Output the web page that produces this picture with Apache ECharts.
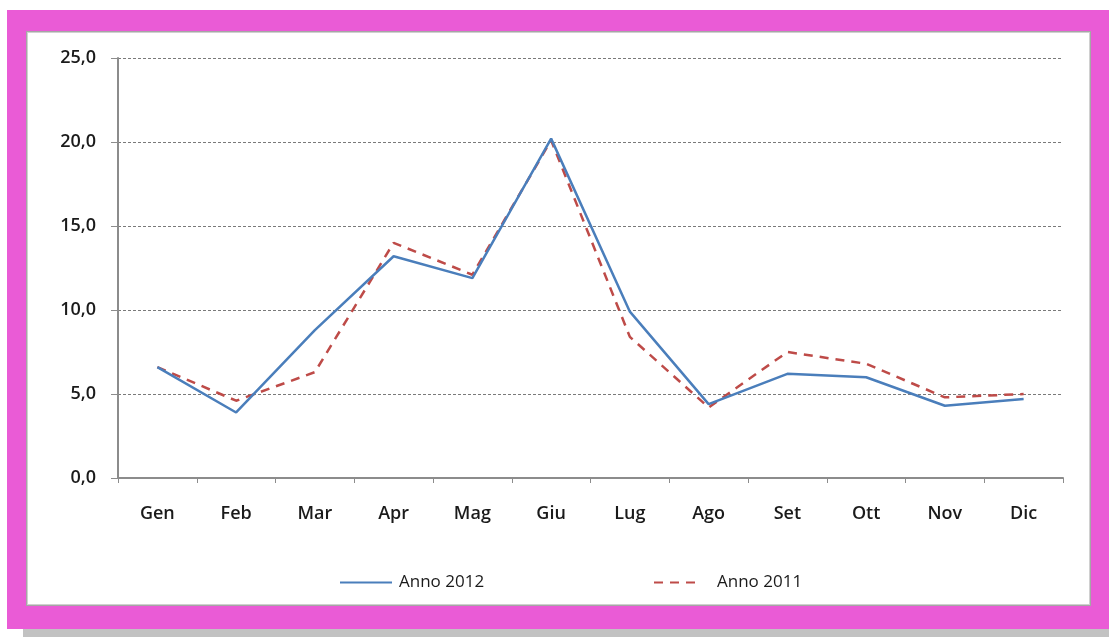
<!DOCTYPE html>
<html>
<head>
<meta charset="utf-8">
<script src="https://cdn.jsdelivr.net/npm/echarts@6/dist/echarts.min.js"></script>
<style>
  html, body { margin: 0; padding: 0; width: 1109px; height: 637px; background: #ffffff; overflow: hidden; }
  #shadow { position: absolute; left: 23px; top: 629px; width: 1086px; height: 8px; background: #c2c2c2; }
  #frame { position: absolute; left: 7px; top: 10px; width: 1102px; height: 619px; background: #ea5bd6; }
  #panel { position: absolute; left: 26px; top: 31px; width: 1063px; height: 573px; background: #ffffff; border: 1px solid #a6a6a6; box-shadow: inset 0 0 0 1px #d0d0d0; }
  #chart { position: absolute; left: 0; top: 0; width: 1109px; height: 637px; }
</style>
</head>
<body>
<div id="shadow"></div>
<div id="frame"></div>
<div id="panel"></div>
<div id="chart"></div>
<script>
// Monthly values for the two years
const months = ['Gen', 'Feb', 'Mar', 'Apr', 'Mag', 'Giu', 'Lug', 'Ago', 'Set', 'Ott', 'Nov', 'Dic'];
const anno2012 = [6.6, 3.9, 8.8, 13.2, 11.9, 20.2, 9.9, 4.4, 6.2, 6.0, 4.3, 4.7];
const anno2011 = [6.6, 4.6, 6.3, 14.0, 12.1, 20.1, 8.4, 4.2, 7.5, 6.8, 4.8, 5.0];
const yTicks = [0, 5, 10, 15, 20, 25];

const fontFamily = '"Open Sans", "Liberation Sans", sans-serif';
const blue = '#4a7ebb';
const red = '#be4b48';

const chart = echarts.init(document.getElementById('chart'), null, { renderer: 'canvas' });
chart.setOption({
  animation: false,
  backgroundColor: 'transparent',
  grid: { left: 118, top: 58, width: 945, height: 420, containLabel: false },
  legend: [
    {
      data: ['Anno 2012'], left: 334, top: 569, itemWidth: 52, itemHeight: 12, itemGap: 0,
      itemStyle: { opacity: 0 },
      textStyle: { fontFamily, fontSize: 17, color: '#1a1a1a', padding: [0, 0, 0, 2] }
    },
    {
      data: ['Anno 2011'], left: 648, top: 569, itemWidth: 48, itemHeight: 12, itemGap: 0,
      itemStyle: { opacity: 0 },
      textStyle: { fontFamily, fontSize: 17, color: '#1a1a1a', padding: [0, 0, 0, 10] }
    }
  ],
  xAxis: {
    type: 'category',
    data: months,
    boundaryGap: true,
    axisLine: { lineStyle: { color: '#8c8c8c', width: 2 } },
    axisTick: { show: true, length: 5, lineStyle: { color: '#8c8c8c', width: 1 } },
    axisLabel: { fontFamily, fontSize: 18, fontWeight: 600, color: '#1a1a1a', margin: 27 },
    splitLine: { show: false }
  },
  yAxis: {
    type: 'value',
    min: yTicks[0],
    max: yTicks[yTicks.length - 1],
    interval: yTicks[1] - yTicks[0],
    axisLine: { show: true, lineStyle: { color: '#8c8c8c', width: 2 } },
    axisTick: { show: true, length: 7, lineStyle: { color: '#8c8c8c', width: 1 } },
    axisLabel: {
      fontFamily, fontSize: 18, fontWeight: 600, color: '#1a1a1a', margin: 22,
      formatter: v => v.toFixed(1).replace('.', ',')
    },
    splitLine: { show: true, lineStyle: { color: '#7a7a7a', width: 1, type: [3, 2] } }
  },
  series: [
    {
      name: 'Anno 2012', type: 'line', data: anno2012, symbol: 'none',
      lineStyle: { color: blue, width: 2.5 }, itemStyle: { color: blue }, z: 3
    },
    {
      name: 'Anno 2011', type: 'line', data: anno2011, symbol: 'none',
      lineStyle: { color: red, width: 2.5, type: [9, 7] }, itemStyle: { color: red }, z: 2
    }
  ]
});
</script>
</body>
</html>
